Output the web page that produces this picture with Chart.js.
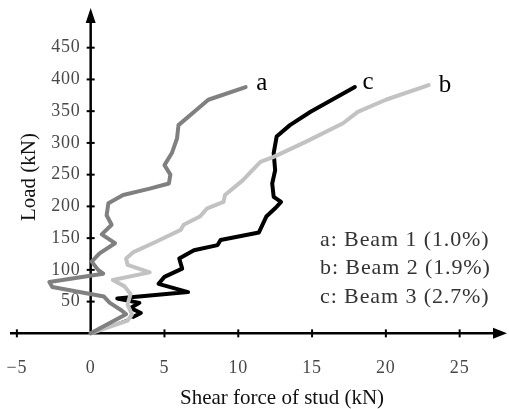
<!DOCTYPE html>
<html><head><meta charset="utf-8">
<script src="https://cdn.jsdelivr.net/npm/chart.js@4"></script>
<style>html,body{margin:0;padding:0;background:#fff;overflow:hidden}canvas{display:block}</style>
</head><body>
<canvas id="c" width="509" height="409"></canvas>
<script>
const xTicks = [-5, 0, 5, 10, 15, 20, 25];
const yTicks = [50, 100, 150, 200, 250, 300, 350, 400, 450];

const aX = [0, 2.4, 2.1, 1.3, 0.9, -2.6, -2.8, 0.85, 0.5, 0.07, 0.6, 1.65, 0.75, 1.42, 1.08, 1.2, 2.2, 4.0, 5.3, 5.4, 5.0, 5.5, 5.85, 5.95, 7.97, 10.5];
const aY = [0, 30, 36, 48, 58, 73, 81, 94, 100, 113, 126, 142, 156, 171, 186, 205, 218, 228, 236, 250, 265, 284, 307, 328, 368, 388];

const bX = [0, 2.5, 2.8, 2.5, 2.7, 2.3, 1.5, 4.0, 2.5, 2.4, 2.9, 4.5, 6.1, 6.3, 7.4, 7.9, 9.0, 9.1, 10.3, 11.5, 12.4, 14.6, 17.1, 18.1, 20.0, 22.9];
const bY = [0, 20, 30, 45, 62, 74, 84, 96, 108, 118, 128, 145, 163, 171, 184, 197, 207, 218, 241, 270, 278, 302, 331, 349, 368, 391];

const cX = [0, 2.9, 3.4, 2.7, 3.3, 1.8, 6.6, 4.6, 5.0, 6.2, 6.0, 7.0, 8.6, 8.8, 11.4, 11.9, 12.5, 12.9, 12.4, 12.3, 12.5, 12.4, 12.6, 13.5, 14.9, 17.9];
const cY = [0, 26, 32, 40, 48, 55, 65, 78, 89, 102, 118, 131, 139, 147, 159, 184, 197, 207, 215, 236, 257, 284, 310, 328, 349, 388];

const curveNames = ['a', 'b', 'c'];
const curveLabelX = [11.6, 24.0, 18.8];
const curveLabelY = [394, 390, 396];
const legendLines = ['a: Beam 1 (1.0%)', 'b: Beam 2 (1.9%)', 'c: Beam 3 (2.7%)'];
const xTitle = 'Shear force of stud (kN)';
const yTitle = 'Load (kN)';

const pts = (xs, ys) => xs.map((x, i) => ({x: x, y: ys[i]}));
const SERIF = '"Liberation Serif","DejaVu Serif",serif';

const axesPlugin = {
  id: 'axesPlugin',
  beforeDatasetsDraw(chart) {
    const ctx = chart.ctx, xs = chart.scales.x, ys = chart.scales.y;
    const x0 = xs.getPixelForValue(0), y0 = ys.getPixelForValue(0);
    ctx.save();
    ctx.strokeStyle = '#000'; ctx.fillStyle = '#000'; ctx.lineWidth = 2.5;
    // x axis
    ctx.beginPath(); ctx.moveTo(10, y0); ctx.lineTo(495, y0); ctx.stroke();
    ctx.beginPath(); ctx.moveTo(507, y0); ctx.lineTo(493, y0 - 5.5); ctx.lineTo(493, y0 + 5.5); ctx.closePath(); ctx.fill();
    // y axis
    ctx.beginPath(); ctx.moveTo(x0, y0 + 1); ctx.lineTo(x0, 20); ctx.stroke();
    ctx.beginPath(); ctx.moveTo(x0, 8); ctx.lineTo(x0 - 5, 23); ctx.lineTo(x0 + 5, 23); ctx.closePath(); ctx.fill();
    // ticks
    ctx.lineWidth = 2;
    xTicks.forEach(v => { if (v === 0) return; const p = xs.getPixelForValue(v); ctx.beginPath(); ctx.moveTo(p, y0 - 4); ctx.lineTo(p, y0 + 4); ctx.stroke(); });
    yTicks.forEach(v => { const p = ys.getPixelForValue(v); ctx.beginPath(); ctx.moveTo(x0 - 4, p); ctx.lineTo(x0 + 4, p); ctx.stroke(); });
    // tick labels
    ctx.fillStyle = '#484848';
    ctx.font = '18px ' + SERIF;
    ctx.letterSpacing = '0.8px';
    ctx.textAlign = 'center'; ctx.textBaseline = 'middle';
    xTicks.forEach(v => ctx.fillText(v < 0 ? '\u2212' + Math.abs(v) : String(v), xs.getPixelForValue(v), y0 + 35));
    ctx.textAlign = 'right';
    yTicks.forEach(v => ctx.fillText(String(v), x0 - 10, ys.getPixelForValue(v)));
    ctx.letterSpacing = '0px';
    // titles
    ctx.fillStyle = '#111';
    ctx.font = '21px ' + SERIF;
    ctx.textAlign = 'center';
    ctx.fillText(xTitle, 282, 398);
    ctx.save(); ctx.translate(29, 177); ctx.rotate(-Math.PI / 2); ctx.fillText(yTitle, 0, 0); ctx.restore();
    ctx.restore();
  },
  afterDatasetsDraw(chart) {
    const ctx = chart.ctx, xs = chart.scales.x, ys = chart.scales.y;
    ctx.save();
    ctx.fillStyle = '#000';
    ctx.font = '25px ' + SERIF;
    ctx.textAlign = 'center'; ctx.textBaseline = 'middle';
    curveNames.forEach((n, i) => ctx.fillText(n, xs.getPixelForValue(curveLabelX[i]), ys.getPixelForValue(curveLabelY[i])));
    ctx.fillStyle = '#333';
    ctx.font = '22px ' + SERIF;
    ctx.letterSpacing = '0.9px';
    ctx.textAlign = 'left';
    legendLines.forEach((t, i) => ctx.fillText(t, 320, 240 + i * 28.5));
    ctx.letterSpacing = '0px';
    ctx.restore();
  }
};

new Chart(document.getElementById('c'), {
  type: 'scatter',
  data: {
    datasets: [
      {data: pts(aX, aY), borderColor: '#808080', borderWidth: 4, showLine: true},
      {data: pts(bX, bY), borderColor: '#c2c2c2', borderWidth: 4, showLine: true},
      {data: pts(cX, cY), borderColor: '#000000', borderWidth: 4, showLine: true,
       segment: {borderWidth: c => c.p0DataIndex === 0 ? 1.5 : 4}}
    ]
  },
  options: {
    responsive: false, animation: false, devicePixelRatio: 1,
    layout: {padding: {left: 9.5, right: 9.5, top: 9.6, bottom: 9}},
    elements: {point: {radius: 0, hoverRadius: 0}, line: {tension: 0, borderJoinStyle: 'round', borderCapStyle: 'round'}},
    plugins: {legend: {display: false}, tooltip: {enabled: false}},
    scales: {
      x: {type: 'linear', min: -5.5, max: 27.7, display: false},
      y: {type: 'linear', min: -105, max: 510, display: false}
    }
  },
  plugins: [axesPlugin]
});
</script>
</body></html>
